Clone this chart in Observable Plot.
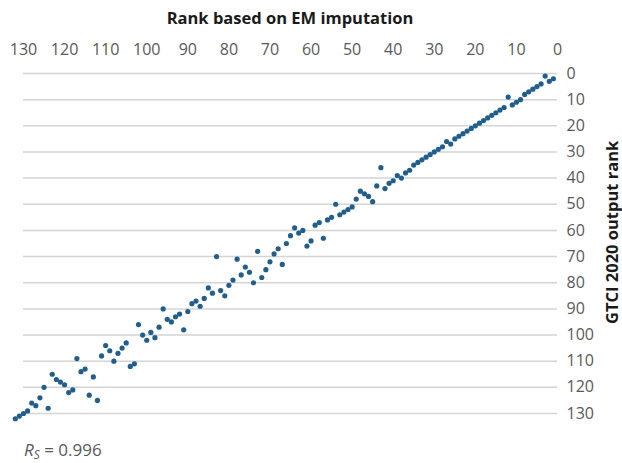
<!DOCTYPE html>
<html><head><meta charset="utf-8">
<script src="https://cdn.jsdelivr.net/npm/d3@7"></script>
<script src="https://cdn.jsdelivr.net/npm/@observablehq/plot@0.6"></script>
<style>
body{margin:0;background:#fff;font-family:"Open Sans",sans-serif;}
#wrap{position:relative;width:622px;height:463px;}
#wrap svg{position:absolute;left:0;top:0;}
#title{position:absolute;left:90px;width:400px;top:6px;text-align:center;font-weight:700;font-size:16.5px;color:#1a1a1a;}
#ylab{position:absolute;left:603px;top:140px;height:184px;width:18px;writing-mode:vertical-rl;transform:rotate(180deg);text-align:center;white-space:nowrap;font-weight:700;font-size:16.5px;line-height:18px;color:#1a1a1a;}
#rs{position:absolute;left:24px;top:442px;font-size:17px;line-height:16px;color:#595959;white-space:nowrap;}
#rs sub{font-size:12px;line-height:12px;vertical-align:baseline;position:relative;top:0.25em;}
</style></head><body>
<div id="wrap">
<div id="title">Rank based on EM imputation</div>
<div id="ylab">GTCI 2020 output rank</div>
<div id="rs"><i>R</i><sub><i>S</i></sub> = 0.996</div>
</div>
<script>
const emRank = [1,2,3,4,5,6,7,8,9,10,11,12,13,14,15,16,17,18,19,20,21,22,23,24,25,26,27,28,29,30,31,32,33,34,35,36,37,38,39,40,41,42,43,44,45,46,47,48,49,50,51,52,53,54,55,56,57,58,59,60,61,62,63,64,65,66,67,68,69,70,71,72,73,74,75,76,77,78,79,80,81,82,83,84,85,86,87,88,89,90,91,92,93,94,95,96,97,98,99,100,101,102,103,104,105,106,107,108,109,110,111,112,113,114,115,116,117,118,119,120,121,122,123,124,125,126,127,128,129,130,131,132];
const gtciRank = [2,3,1,4,5,6,7,8,10,11,12,9,13,14,15,16,17,18,19,20,21,22,23,24,25,27,26,28,29,30,31,32,33,34,35,37,38,40,39,41,42,44,36,43,49,47,46,45,48,51,52,53,54,50,55,56,63,57,58,64,66,60,61,59,62,65,73,67,69,72,75,78,68,80,76,74,77,71,79,81,85,83,70,84,82,86,89,87,88,91,98,92,93,95,94,90,97,101,99,102,100,96,111,112,103,105,107,110,106,104,108,125,116,123,113,114,109,121,122,119,118,117,115,128,120,124,127,126,129,130,131,132];
const xTicks = [130,120,110,100,90,80,70,60,50,40,30,20,10,0];
const yTicks = [0,10,20,30,40,50,60,70,80,90,100,110,120,130];

const data = emRank.map((x, i) => ({x, y: gtciRank[i]}));

const chart = Plot.plot({
  width: 622,
  height: 463,
  marginLeft: 23,
  marginRight: 65,
  marginTop: 73,
  marginBottom: 50,
  style: {fontFamily: '"Open Sans", sans-serif', fontSize: "16px", color: "#595959", background: "transparent"},
  x: {domain: [130, 0], axis: null},
  y: {domain: [0, 130], reverse: true, axis: null},
  marks: [
    Plot.ruleY(yTicks, {stroke: "#d4d4d4", strokeWidth: 1.5}),
    Plot.axisX(xTicks, {anchor: "top", tickSize: 0, tickPadding: 19, label: null, fill: "#595959"}),
    Plot.axisY(yTicks, {anchor: "right", tickSize: 0, tickPadding: 9, label: null, fill: "#595959"}),
    Plot.dot(data, {x: "x", y: "y", r: 2.6, fill: "#1f5f8f", stroke: "none"})
  ]
});
document.getElementById("wrap").prepend(chart);
</script>
</body></html>
